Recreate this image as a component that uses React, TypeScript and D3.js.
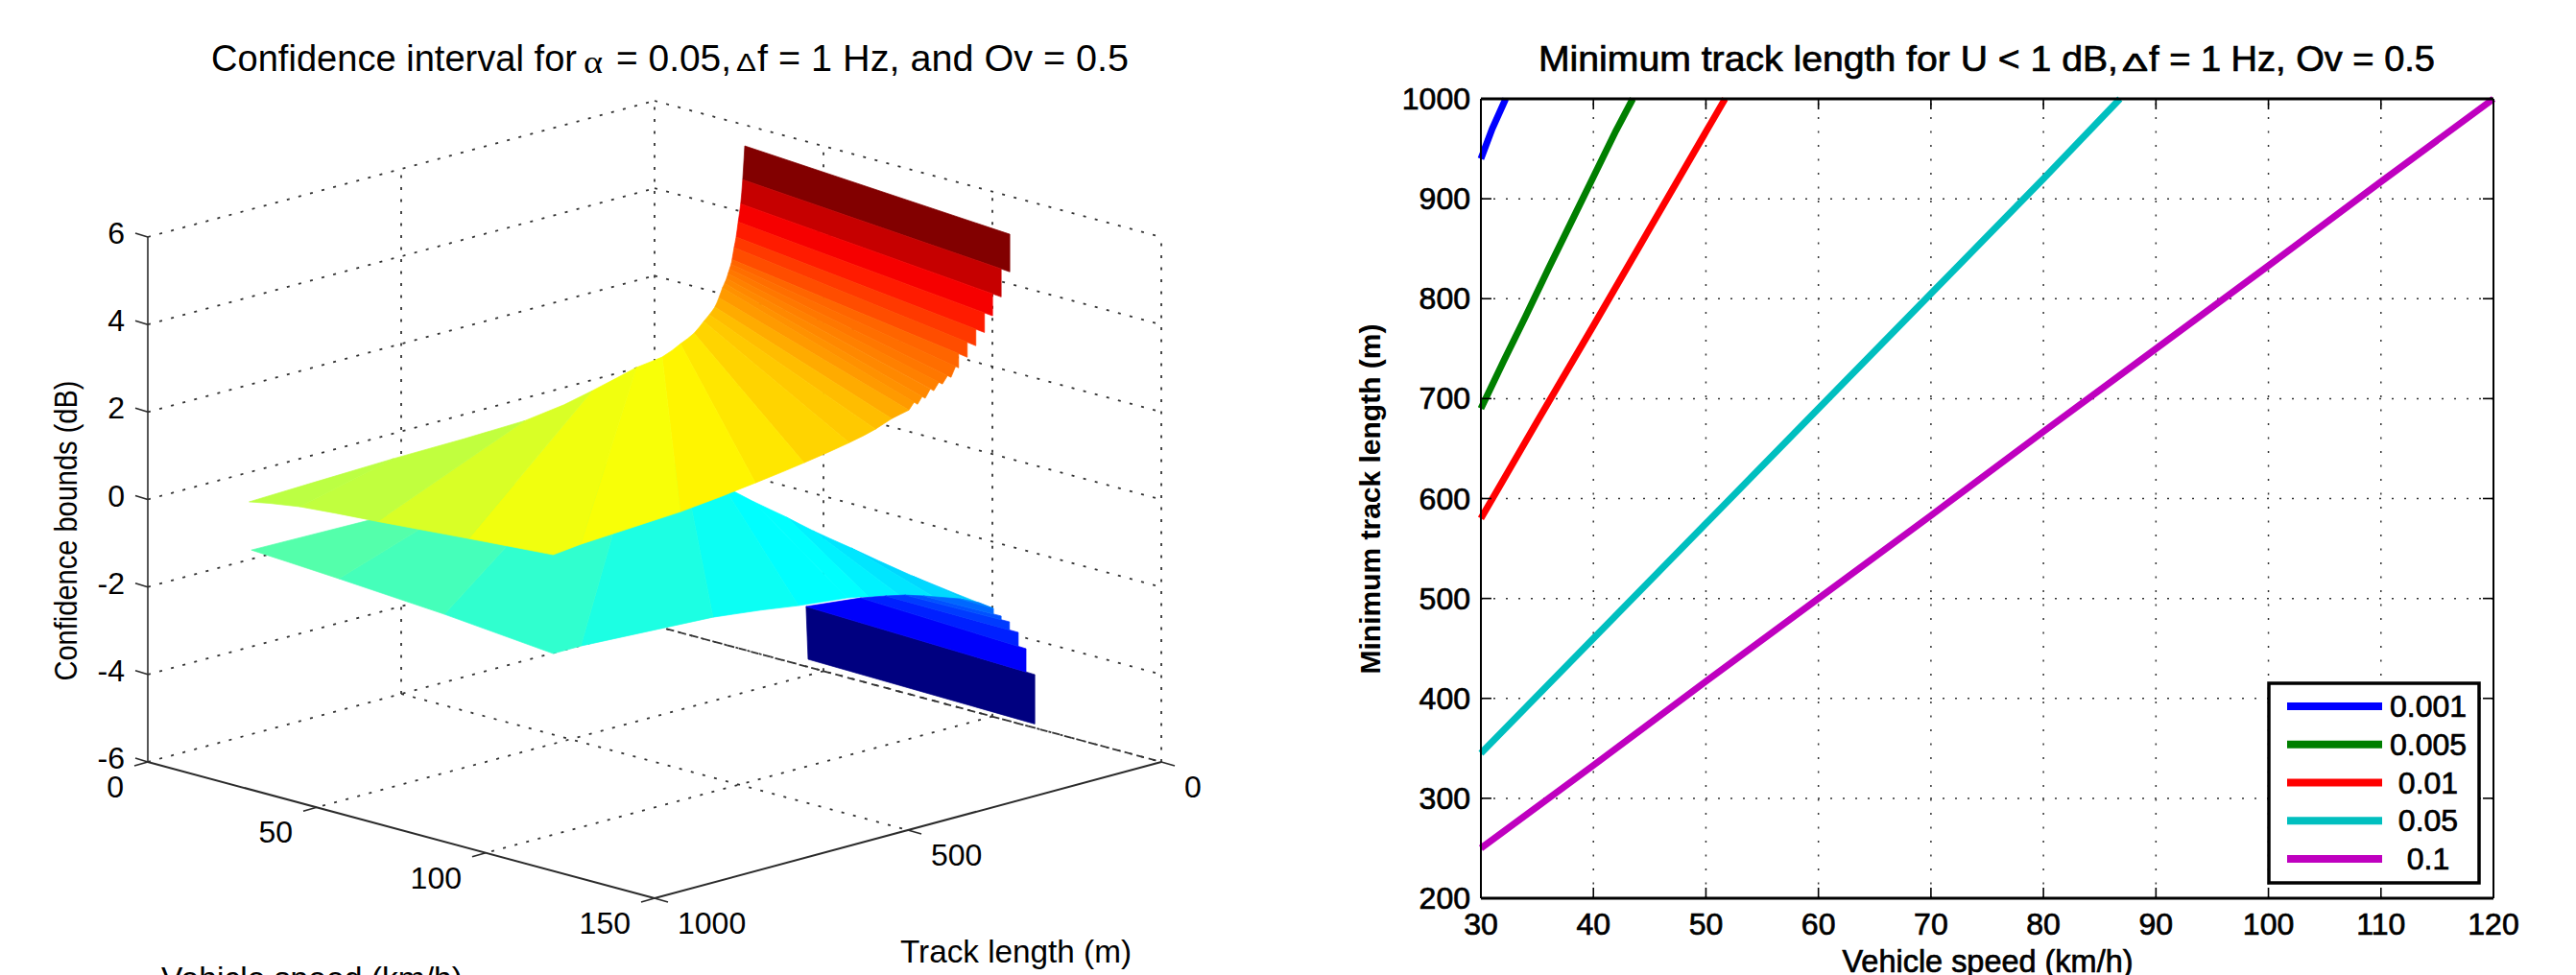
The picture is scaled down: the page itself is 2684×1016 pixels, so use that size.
import React from 'react';
import * as d3 from 'd3';

// ---------- left chart data: surfaces as [speed km/h, track m, bound dB] ----------
const upperInner: number[][] = [[30,22,5.66],[30,26,4.9],[30,30,4.36],[30,35,3.96],[30,39,3.63],[30,43,3.4],[30,47,3.14],[30,49,3.04],[30,52,2.94],[30,55,2.84],[30,58,2.74],[30,62,2.64],[30,66,2.55],[30,73,2.35],[30,81,2.16],[30,92,2.02],[30,103,1.9],[30,122,1.69],[30,149,1.53],[30,185,1.34],[30,236,1.26],[30,323,1.0],[30,456,0.73],[30,715,0.67],[30,1000,0.57]];
const upperOuter: number[][] = [[120,92,5.7],[120,99,4.89],[120,116,4.37],[120,133,3.99],[120,149,3.66],[120,166,3.41],[120,183,3.2],[120,200,3.01],[120,215,2.84],[120,232,2.74],[120,249,2.64],[120,266,2.52],[120,281,2.43],[120,298,2.35],[120,332,2.26],[120,364,2.12],[120,416,1.97],[120,505,1.79],[120,601,1.63],[120,749,1.43],[120,946,1.3],[95,1000,1.08],[68,1000,0.91],[45,1000,0.77],[30,1000,0.57]];
const upperCorner = [120, 1000, 1.23];
const upperCornerBand = 20;

const lowerInner: number[][] = [[137,245,-2.0],[110.6,229,-1.85],[89.9,211,-1.7],[78.1,208,-1.56],[70.2,207,-1.42],[56.5,182,-1.42],[46.2,173,-1.3],[33.8,169,-1.11],[29.4,237,-0.88],[31.7,366,-0.65],[33.7,569,-0.48],[33.5,1019,-0.4]];
const lowerOuter: number[][] = [[137,245,-2.0],[133.3,268,-1.85],[129,309,-1.7],[126.3,359,-1.56],[126.1,418,-1.42],[123.5,443,-1.42],[123.4,539,-1.3],[121.7,696,-1.11],[123.5,969,-0.88],[91.4,1024,-0.65],[60.3,1025,-0.48],[33.5,1019,-0.4]];
const lowerCorner = [120, 1000, -1.03];
const lowerCornerBand = 8;

const wallInner: number[][] = [[48.9,23,-5.68],[52.8,53,-4.3],[65.8,32,-3.9],[75.6,48,-3.6],[84,66,-3.35],[93.2,91,-3.1],[107.5,114,-2.8],[119.6,157,-2.5]];
const wallOuter: number[][] = [[119.7,37,-5.68],[124.1,77,-4.3],[118.2,55,-3.9],[115.3,51,-3.6],[114.2,61,-3.35],[115.8,88,-3.1],[117.7,116,-2.8],[124.9,164,-2.5]];

const zTicks = [-6, -4, -2, 0, 2, 4, 6];
const speedTicks3d = [0, 50, 100, 150];
const trackTicks3d = [0, 500, 1000];

// ---------- right chart data ----------
const speedTicks = [30, 40, 50, 60, 70, 80, 90, 100, 110, 120];
const lengthTicks = [200, 300, 400, 500, 600, 700, 800, 900, 1000];
const alphaLabels = ['0.001', '0.005', '0.01', '0.05', '0.1'];
const alphaColors = ['#0000ff', '#007f00', '#ff0000', '#00bfbf', '#bf00bf'];
const speed001 = [30, 31, 32.2];
const length001 = [940, 970, 1000];
const speed005 = [30, 32, 34, 36, 38, 40, 42, 43.5];
const length005 = [690, 737, 783, 830, 876, 922, 968, 1000];
const speed01 = [30, 35, 40, 45, 50, 51.7];
const length01 = [580, 677, 773, 870, 967, 1000];
const speed05 = [30, 40, 50, 60, 70, 80, 86.8];
const length05 = [345, 460, 575, 690, 805, 920, 1000];
const speed1 = [30, 40, 50, 60, 70, 80, 90, 100, 110, 120];
const length1 = [250, 333, 417, 500, 583, 667, 750, 833, 917, 1000];
const seriesSpeeds = [speed001, speed005, speed01, speed05, speed1];
const seriesLengths = [length001, length005, length01, length05, length1];

// ---------- scales ----------
const ORIGIN: [number, number] = [682, 652];
const sxSpeed = d3.scaleLinear().domain([0, 150]).range([0, 528]);
const sxTrack = d3.scaleLinear().domain([0, 1000]).range([0, -528]);
const sySpeed = d3.scaleLinear().domain([0, 150]).range([0, 142]);
const syTrack = d3.scaleLinear().domain([0, 1000]).range([0, 142]);
const syZ = d3.scaleLinear().domain([-6, 6]).range([0, -547]);
const proj = (v: number, t: number, z: number): [number, number] => [
  ORIGIN[0] + sxSpeed(v) + sxTrack(t),
  ORIGIN[1] + sySpeed(v) + syTrack(t) + syZ(z),
];
const ZMAX = 5.68;
const jet = d3
  .scaleLinear<string>()
  .domain([0, 0.125, 0.375, 0.625, 0.875, 1].map((p) => -ZMAX + p * 2 * ZMAX))
  .range(['#000080', '#0000ff', '#00ffff', '#ffff00', '#ff0000', '#800000'])
  .clamp(true);

const xR = d3.scaleLinear().domain([30, 120]).range([1543, 2598]);
const yR = d3.scaleLinear().domain([200, 1000]).range([936, 103]);

const FONT = '"Liberation Sans", Arial, sans-serif';
const DOT = '#333333';

// midpoint of the smooth curve through a boundary's neighbouring vertices
function curveMid(pts: [number, number][], i: number): [number, number] {
  const a = pts[Math.max(i - 1, 0)];
  const b = pts[i];
  const c = pts[i + 1];
  const e = pts[Math.min(i + 2, pts.length - 1)];
  return [(-a[0] + 9 * b[0] + 9 * c[0] - e[0]) / 16, (-a[1] + 9 * b[1] + 9 * c[1] - e[1]) / 16];
}

function bands(inner: number[][], outer: number[][], cornerBand: number, corner: number[] | null, smooth: boolean, fineStairFrom: number) {
  const out: { d: string; fill: string }[] = [];
  const P = inner.map((r) => proj(r[0], r[1], r[2]));
  const Q = outer.map((r) => proj(r[0], r[1], r[2]));
  for (let i = 0; i < inner.length - 1; i++) {
    const p0 = P[i];
    const q0 = Q[i];
    const q1 = Q[i + 1];
    const p1 = P[i + 1];
    const pts: [number, number][] = [p0];
    const dx = q0[0] - q1[0];
    const stair = dx > 0 && dx < 12;
    if (stair) {
      const cutX = i >= fineStairFrom ? q0[0] - dx * 0.4 : q1[0];
      const f = (cutX - p0[0]) / (q0[0] - p0[0]);
      pts.push([cutX, p0[1] + f * (q0[1] - p0[1])]);
    } else {
      pts.push(q0);
    }
    if (corner && i === cornerBand) pts.push(proj(corner[0], corner[1], corner[2]));
    else if (smooth && !stair && Math.abs(i - cornerBand) > 1) pts.push(curveMid(Q, i));
    pts.push(q1, p1);
    if (smooth) pts.push(curveMid(P, i));
    out.push({ d: d3.line()(pts) + 'Z', fill: jet(inner[i][2]) });
  }
  return out;
}

const Seg = (p: { a: [number, number]; b: [number, number]; dash?: string; w?: number; c?: string }) => (
  <line x1={p.a[0]} y1={p.a[1]} x2={p.b[0]} y2={p.b[1]} stroke={p.c ?? DOT} strokeWidth={p.w ?? 1.8} strokeDasharray={p.dash} />
);

const T = (p: any) => (
  <text fontFamily={FONT} fill="#000" {...p}>
    {p.children}
  </text>
);

function Left() {
  const dots = '3 9.5';
  const grid: React.ReactNode[] = [];
  zTicks.forEach((z) => {
    grid.push(<Seg key={'zl' + z} a={proj(0, 1000, z)} b={proj(0, 0, z)} dash={dots} />);
    grid.push(<Seg key={'zr' + z} a={proj(0, 0, z)} b={proj(150, 0, z)} dash={dots} />);
  });
  [500, 0].forEach((t) => grid.push(<Seg key={'vt' + t} a={proj(0, t, -6)} b={proj(0, t, 6)} dash={dots} />));
  [50, 100, 150].forEach((v) => grid.push(<Seg key={'vv' + v} a={proj(v, 0, -6)} b={proj(v, 0, 6)} dash={dots} />));
  [50, 100].forEach((v) => grid.push(<Seg key={'fv' + v} a={proj(v, 0, -6)} b={proj(v, 1000, -6)} dash={dots} />));
  grid.push(<Seg key="ft" a={proj(0, 500, -6)} b={proj(150, 500, -6)} dash={dots} />);
  grid.push(<Seg key="fd" a={proj(0, 0, -6)} b={proj(150, 0, -6)} dash="8 5" />);

  const axisC = '#2b2b2b';
  return (
    <g>
      {grid}
      {bands(lowerInner, lowerOuter, lowerCornerBand, lowerCorner, true, 99).map((b, i) => (
        <path key={'l' + i} d={b.d} fill={b.fill} stroke={b.fill} strokeWidth={0.7} />
      ))}
      {bands(wallInner, wallOuter, -5, null, false, 99).map((b, i) => (
        <path key={'w' + i} d={b.d} fill={b.fill} stroke={b.fill} strokeWidth={0.7} />
      ))}
      {bands(upperInner, upperOuter, upperCornerBand, upperCorner, true, 7).map((b, i) => (
        <path key={'u' + i} d={b.d} fill={b.fill} stroke={b.fill} strokeWidth={0.7} />
      ))}
      <Seg a={proj(0, 1000, -6)} b={proj(0, 1000, 6)} c={axisC} w={1.6} />
      <Seg a={proj(0, 1000, -6)} b={proj(150, 1000, -6)} c={axisC} w={2} />
      <Seg a={proj(150, 1000, -6)} b={proj(150, 0, -6)} c={axisC} w={2} />
      {zTicks.map((z) => {
        const p = proj(0, 1000, z);
        return (
          <g key={z}>
            <line x1={p[0]} y1={p[1]} x2={p[0] - 13} y2={p[1] - 4} stroke={axisC} strokeWidth={1.6} />
            <T x={p[0] - 24} y={p[1] - 4} textAnchor="end" dominantBaseline="central" fontSize={32}>
              {z}
            </T>
          </g>
        );
      })}
      {speedTicks3d.map((v) => {
        const p = proj(v, 1000, -6);
        return (
          <g key={v}>
            <line x1={p[0]} y1={p[1]} x2={p[0] - 14} y2={p[1] + 4} stroke={axisC} strokeWidth={1.6} />
            <T x={p[0] - 25} y={p[1] + 26} textAnchor="end" dominantBaseline="central" fontSize={32}>
              {v}
            </T>
          </g>
        );
      })}
      {trackTicks3d.map((t) => {
        const p = proj(150, t, -6);
        return (
          <g key={t}>
            <line x1={p[0]} y1={p[1]} x2={p[0] + 14} y2={p[1] + 4} stroke={axisC} strokeWidth={1.6} />
            <T x={p[0] + 24} y={p[1] + 26} textAnchor="start" dominantBaseline="central" fontSize={32}>
              {t}
            </T>
          </g>
        );
      })}
      <T x={220} y={74} fontSize={38} textLength={381} lengthAdjust="spacingAndGlyphs">Confidence interval for</T>
      <text x={608} y={76} fontSize={34} fontFamily='"Liberation Serif", serif' textLength={20} lengthAdjust="spacingAndGlyphs">α</text>
      <T x={642} y={74} fontSize={38} textLength={120} lengthAdjust="spacingAndGlyphs">= 0.05,</T>
      <text x={767} y={74} fontSize={26} fontFamily={FONT} textLength={21} lengthAdjust="spacingAndGlyphs">Δ</text>
      <T x={789} y={74} fontSize={38} textLength={387} lengthAdjust="spacingAndGlyphs">f = 1 Hz, and Ov = 0.5</T>
      <T x={938} y={1003} fontSize={33} textLength={241} lengthAdjust="spacingAndGlyphs">Track length (m)</T>
      <T x={168} y={1031} fontSize={33} textLength={314} lengthAdjust="spacingAndGlyphs">Vehicle speed (km/h)</T>
      <T transform="translate(80,553) rotate(-90)" textAnchor="middle" fontSize={33} textLength={313} lengthAdjust="spacingAndGlyphs">Confidence bounds (dB)</T>
    </g>
  );
}

function Right() {
  const line = d3
    .line<[number, number]>()
    .x((d) => xR(d[0]))
    .y((d) => yR(d[1]));
  const heavy = { stroke: '#000', strokeWidth: 0.7 };
  const lx = [2383, 2482];
  const ly = d3.scaleLinear().domain([0, 4]).range([736, 895]);
  return (
    <g>
      {speedTicks.slice(1, -1).map((s) => (
        <line key={s} x1={xR(s)} x2={xR(s)} y1={yR(200)} y2={yR(1000)} stroke={DOT} strokeWidth={1.5} strokeDasharray="2 12.5" />
      ))}
      {lengthTicks.slice(1, -1).map((l) => (
        <line key={l} x1={xR(30)} x2={xR(120)} y1={yR(l)} y2={yR(l)} stroke={DOT} strokeWidth={1.5} strokeDasharray="2 11" />
      ))}
      {seriesSpeeds.map((sp, i) => (
        <path
          key={i}
          d={line(sp.map((s, j) => [s, seriesLengths[i][j]] as [number, number])) ?? ''}
          fill="none"
          stroke={alphaColors[i]}
          strokeWidth={7}
        />
      ))}
      {speedTicks.map((s) => (
        <g key={s}>
          <line x1={xR(s)} x2={xR(s)} y1={yR(200)} y2={yR(200) - 11} stroke="#000" strokeWidth={1.6} />
          <line x1={xR(s)} x2={xR(s)} y1={yR(1000)} y2={yR(1000) + 11} stroke="#000" strokeWidth={1.6} />
          <T x={xR(s)} y={963} textAnchor="middle" dominantBaseline="central" fontSize={32} {...heavy}>
            {s}
          </T>
        </g>
      ))}
      {lengthTicks.map((l) => (
        <g key={l}>
          <line x1={xR(30)} x2={xR(30) + 11} y1={yR(l)} y2={yR(l)} stroke="#000" strokeWidth={1.6} />
          <line x1={xR(120)} x2={xR(120) - 11} y1={yR(l)} y2={yR(l)} stroke="#000" strokeWidth={1.6} />
          <T x={1532} y={yR(l)} textAnchor="end" dominantBaseline="central" fontSize={32} {...heavy}>
            {l}
          </T>
        </g>
      ))}
      <line x1={xR(30)} x2={xR(120)} y1={yR(1000)} y2={yR(1000)} stroke="#000" strokeWidth={3} />
      <line x1={xR(30)} x2={xR(120)} y1={yR(200)} y2={yR(200)} stroke="#000" strokeWidth={3} />
      <line x1={xR(30)} x2={xR(30)} y1={yR(1000)} y2={yR(200)} stroke="#000" strokeWidth={2} />
      <line x1={xR(120)} x2={xR(120)} y1={yR(1000)} y2={yR(200)} stroke="#000" strokeWidth={2} />
      <rect x={2364} y={712} width={219} height={208} fill="#fff" stroke="#000" strokeWidth={3.5} />
      {alphaLabels.map((lab, i) => (
        <g key={lab}>
          <line x1={lx[0]} x2={lx[1]} y1={ly(i)} y2={ly(i)} stroke={alphaColors[i]} strokeWidth={8} />
          <T x={2530} y={ly(i)} textAnchor="middle" dominantBaseline="central" fontSize={32} {...heavy}>
            {lab}
          </T>
        </g>
      ))}
      <T x={1603} y={74} fontSize={37} textLength={604} lengthAdjust="spacingAndGlyphs" {...heavy}>Minimum track length for U &lt; 1 dB,</T>
      <text x={2211} y={74} fontSize={26} fontFamily={FONT} textLength={27} lengthAdjust="spacingAndGlyphs" {...heavy}>Δ</text>
      <T x={2239} y={74} fontSize={37} textLength={298} lengthAdjust="spacingAndGlyphs" {...heavy}>f = 1 Hz, Ov = 0.5</T>
      <T x={2071} y={1013} textAnchor="middle" fontSize={33} textLength={303} lengthAdjust="spacingAndGlyphs" {...heavy}>Vehicle speed (km/h)</T>
      <T transform="translate(1438,520) rotate(-90)" textAnchor="middle" fontSize={30} textLength={365} lengthAdjust="spacingAndGlyphs" fontWeight="bold">Minimum track length (m)</T>
    </g>
  );
}

export default function App() {
  return (
    <svg
      width={2684}
      height={1016}
      viewBox="0 0 2684 1016"
      style={{ position: 'fixed', left: 0, top: 0, background: '#fff', display: 'block' }}
    >
      <Left />
      <Right />
    </svg>
  );
}
